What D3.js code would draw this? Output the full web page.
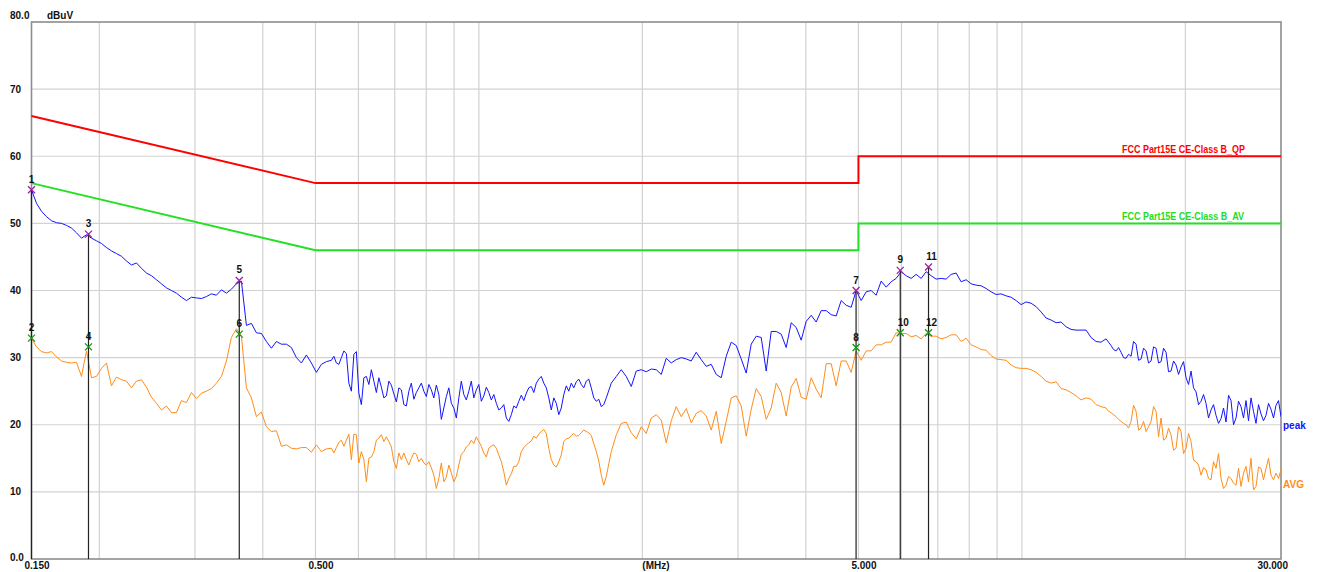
<!DOCTYPE html>
<html><head><meta charset="utf-8">
<script src="https://cdn.jsdelivr.net/npm/d3@7"></script>
<style>
body{margin:0;background:#fff}
svg{display:block}
text{font-family:"Liberation Sans",Arial,sans-serif;font-weight:bold}
</style>
</head><body>
<svg id="c" width="1317" height="572"></svg>
<script>
// receiver sweep grid (log spaced, 0.15 - 30 MHz)
const N = 251;
const freqs = d3.range(N).map(i => 0.15 * Math.pow(200, i / (N - 1)));
// extra sweep points halfway between grid points, in the noisy bands
const midFreq = i => 0.15 * Math.pow(200, (i + 0.5) / (N - 1));

const peak = [
55.0,53.0,51.8,51.0,50.4,50.1,50.0,49.7,49.3,48.6,
47.8,48.3,47.8,47.4,47.0,46.4,45.9,45.5,45.1,44.4,
43.8,44.1,43.3,42.6,42.2,41.6,41.0,40.4,40.0,39.6,
39.0,38.5,39.0,38.9,38.8,39.1,39.5,39.3,40.1,39.6,
40.2,41.0,41.4,34.8,35.1,33.7,33.6,32.4,31.4,32.4,
32.0,32.0,31.5,30.0,29.2,30.4,29.2,27.8,29.0,29.4,
29.6,29.2,30.0,30.6,25.0,30.9,23.0,27.2,28.2,24.8,
25.6,24.3,25.9,23.4,25.2,22.8,26.2,24.8,26.2,24.2,
25.2,25.9,20.8,24.2,23.2,21.0,26.5,23.7,26.5,25.2,
23.5,25.6,23.7,23.2,22.5,21.0,21.5,22.5,24.4,24.7,
25.7,26.2,27.2,25.5,22.2,23.2,22.5,25.8,26.2,26.4,
26.0,26.5,25.5,23.5,22.7,24.0,26.2,27.2,28.2,27.2,
25.7,28.0,28.2,27.9,28.3,28.2,27.5,29.9,29.2,29.7,
30.0,29.8,29.5,30.8,29.7,28.7,29.0,27.5,27.0,30.2,
32.3,31.8,29.8,27.7,32.0,33.2,33.0,28.0,33.9,33.9,
33.5,31.5,35.2,34.5,32.6,35.4,36.3,35.3,37.0,37.0,
36.4,36.2,38.5,37.8,37.5,40.0,38.5,39.8,40.0,39.3,
41.4,40.5,41.3,41.8,42.8,42.2,41.8,42.4,41.8,42.8,
42.2,41.7,41.8,41.7,42.4,42.6,41.3,41.6,41.0,40.8,
40.7,40.3,39.8,39.4,39.5,39.2,39.0,38.5,37.9,38.3,
38.1,37.6,36.8,35.9,35.6,35.2,35.3,34.6,34.2,34.1,
34.1,34.1,33.0,32.4,32.3,32.8,31.8,31.0,30.8,29.9,
30.2,32.0,29.8,31.0,29.5,31.4,29.4,30.8,28.0,28.9,
28.6,27.0,28.0,24.9,23.5,23.2,22.2,21.4,20.9,20.4,
23.6,21.0,22.7,23.6,24.0,20.2,21.6,21.4,22.3,22.9,
21.2];

const avg = [
32.9,31.6,30.9,30.7,30.9,30.1,29.5,29.3,29.2,29.3,
27.2,31.0,27.0,27.2,28.4,29.2,25.8,27.1,26.7,26.5,
25.5,26.5,26.7,25.6,24.1,23.2,22.2,22.8,21.8,21.8,
23.6,23.3,24.8,23.9,24.7,25.0,25.4,26.2,27.2,29.5,
33.0,34.3,33.2,25.5,24.0,21.2,21.9,19.7,19.0,19.1,
16.8,17.0,16.5,16.4,16.6,16.6,15.9,17.0,16.0,16.4,
16.5,16.6,17.7,17.7,14.8,18.5,16.0,11.5,15.2,17.7,
18.5,18.2,16.7,13.5,14.8,14.8,15.0,15.6,15.0,14.0,
13.6,10.5,14.3,12.2,12.8,12.3,15.6,16.7,17.7,18.2,
16.8,15.2,16.8,16.5,14.5,11.0,12.7,13.8,16.0,17.0,
17.6,18.0,19.0,18.7,14.8,13.7,15.5,17.9,18.4,18.3,
18.8,19.0,18.4,16.0,12.5,12.3,16.0,18.5,20.2,20.4,
18.8,17.9,19.7,18.7,21.0,21.5,20.7,17.3,20.6,22.7,
21.2,22.4,20.3,21.7,22.1,21.3,19.2,22.0,17.2,20.5,
24.0,24.3,22.8,18.3,22.3,25.4,24.2,20.8,22.5,26.2,
24.8,21.3,25.6,26.9,24.1,23.8,27.0,25.3,24.0,29.1,
29.1,25.8,29.5,29.5,27.8,31.0,29.6,31.0,31.0,31.9,
31.9,32.3,32.3,33.7,33.6,33.6,33.1,33.3,32.8,33.6,
33.2,33.2,32.8,33.0,33.4,33.4,32.4,32.9,31.9,31.6,
31.2,31.1,30.3,29.8,29.7,29.6,28.9,28.5,28.4,28.4,
28.2,27.8,27.2,26.5,26.2,26.4,25.4,25.2,24.8,24.3,
23.7,24.0,23.8,23.0,22.7,22.5,21.8,21.2,20.5,20.0,
20.5,22.0,19.5,19.0,20.5,22.0,21.0,18.0,18.5,16.5,
19.0,16.5,17.5,14.5,12.5,13.3,11.8,13.5,12.0,11.0,
12.0,11.0,10.8,13.8,15.0,10.8,13.5,13.5,12.5,12.8,
13.3];

// extra points (between grid i and i+1) in band A: i = 60..114, band B: i = 215..249
const bandAStart = 60, bandBStart = 215;
const peakMidA = [
30.2,29.0,31.0,26.2,30.5,24.7,27.0,26.0,26.5,27.0,
24.0,26.5,24.6,25.5,23.0,25.0,23.8,25.5,25.0,26.0,
24.0,24.5,22.5,25.5,22.5,24.0,24.5,25.0,24.0,26.0,
24.3,24.8,24.5,22.2,23.0,20.5,22.8,23.5,23.6,25.5,
24.8,26.8,26.2,24.0,24.0,21.5,24.5,25.0,25.5,26.8,
25.5,26.8,24.0,23.8,23.0];
const peakMidB = [
32.3,31.2,31.5,30.0,30.5,32.4,29.6,31.4,29.2,31.6,
29.2,31.4,27.9,29.5,27.5,29.4,26.0,25.5,23.0,24.5,
21.0,23.0,20.2,22.5,24.4,20.0,23.5,21.0,20.6,22.0,
23.0,20.6,23.2,21.0,23.6];
const avgMidA = [
15.8,17.4,16.8,18.6,18.6,14.3,14.8,15.0,16.0,18.0,
17.5,17.5,14.5,15.8,15.8,14.0,15.8,14.5,14.3,14.5,
12.5,12.0,11.5,14.0,11.5,14.0,16.0,17.0,17.2,17.5,
15.8,16.5,17.0,15.5,13.0,12.0,13.8,14.5,16.6,17.3,
18.3,18.6,19.3,16.5,14.0,14.5,17.5,18.0,18.7,18.4,
19.2,18.8,17.2,14.6,11.0];
const avgMidB = [
22.0,21.5,20.8,20.2,19.5,22.9,19.2,20.5,19.7,22.7,
18.2,17.7,19.5,16.2,19.7,15.7,18.7,14.7,14.0,13.6,
12.0,14.5,15.7,10.5,12.3,11.3,13.5,12.8,11.5,10.3,
13.7,11.8,15.0,11.8,12.0];

const qpLimitF = [0.15, 0.5, 5, 5, 30];
const qpLimitV = [66, 56, 56, 60, 60];
const avLimitF = [0.15, 0.5, 5, 5, 30];
const avLimitV = [56, 46, 46, 50, 50];

const markerNo   = [1, 2, 3, 4, 5, 6, 7, 8, 9, 10, 11, 12];
const markerFreq = [0.150, 0.150, 0.191, 0.191, 0.362, 0.362, 4.95, 4.95, 5.97, 5.97, 6.73, 6.73];
const markerVal  = [55.0, 32.9, 48.4, 31.6, 41.5, 33.5, 40.0, 31.5, 43.0, 33.7, 43.5, 33.7];
const markerType = ["peak","avg","peak","avg","peak","avg","peak","avg","peak","avg","peak","avg"];

const yTicks = [0, 10, 20, 30, 40, 50, 60, 70, 80];
const yTickLabels = ["0.0","10","20","30","40","50","60","70","80.0"];
const xGrid = [0.2,0.3,0.4,0.5,0.6,0.7,0.8,0.9,1,2,3,4,5,6,7,8,9,10,20];
const xTickValues = [0.15, 0.5, 5, 30];
const xTickLabels = ["0.150","0.500","5.000","30.000"];

function buildTrace(base, midA, midB) {
  const pts = freqs.map((f, i) => [f, base[i]]);
  midA.forEach((v, k) => pts.push([midFreq(bandAStart + k), v]));
  midB.forEach((v, k) => pts.push([midFreq(bandBStart + k), v]));
  return pts.sort((a, b) => a[0] - b[0]);
}

const L = 31.5, R = 1281, T = 22, B = 559;
const x = d3.scaleLog().domain([0.15, 30]).range([L, R]);
const y = d3.scaleLinear().domain([0, 80]).range([B, T]);

const svg = d3.select("#c");
svg.append("rect").attr("width",1317).attr("height",572).attr("fill","#fff");

svg.append("defs").append("clipPath").attr("id","clip")
  .append("rect").attr("x",L).attr("y",T).attr("width",R-L).attr("height",B-T);

// grid
const g = svg.append("g");
g.selectAll(".hg").data(yTicks.slice(1,-1)).enter().append("line")
  .attr("x1",L).attr("x2",R).attr("y1",d=>y(d)).attr("y2",d=>y(d))
  .attr("stroke","#d2d2d2").attr("stroke-width",1.2);
g.selectAll(".vg").data(xGrid).enter().append("line")
  .attr("y1",T).attr("y2",B).attr("x1",d=>x(d)).attr("x2",d=>x(d))
  .attr("stroke","#d2d2d2").attr("stroke-width",1.2);

// frame
svg.append("rect").attr("x",L).attr("y",T).attr("width",R-L).attr("height",B-T)
  .attr("fill","none").attr("stroke","#8c8c8c").attr("stroke-width",1.6);

// y labels
svg.selectAll(".yl").data(yTicks).enter().append("text")
  .attr("x",10)
  .attr("y",(d,i)=> d===80 ? 15 : (d===0 ? 557 : y(d)))
  .attr("dy","0.35em").attr("font-size",10).attr("fill","#111")
  .text((d,i)=>yTickLabels[i]);
svg.append("text").attr("x",47).attr("y",15).attr("dy","0.35em")
  .attr("font-size",10).attr("fill","#111").text("dBuV");

// x labels
svg.selectAll(".xl").data(xTickValues).enter().append("text")
  .attr("x",(d,i)=> i===xTickValues.length-1 ? 1288 : x(d)-7)
  .attr("text-anchor",(d,i)=> i===xTickValues.length-1 ? "end" : "start")
  .attr("y",565).attr("dy","0.35em").attr("font-size",10).attr("fill","#111")
  .text((d,i)=>xTickLabels[i]);
svg.append("text").attr("x",x(2)).attr("y",565).attr("dy","0.35em")
  .attr("font-size",10).attr("fill","#111").text("(MHz)");

// limit lines
const lim = d3.line().x(d=>x(d[0])).y(d=>y(d[1]));
svg.append("path").attr("d",lim(qpLimitF.map((f,i)=>[f,qpLimitV[i]])))
  .attr("fill","none").attr("stroke","#ff0000").attr("stroke-width",2);
svg.append("path").attr("d",lim(avLimitF.map((f,i)=>[f,avLimitV[i]])))
  .attr("fill","none").attr("stroke","#22e022").attr("stroke-width",2);
svg.append("text").attr("x",1122).attr("y",y(60)-7).attr("dy","0.35em")
  .attr("font-size",11).attr("fill","#ff0000")
  .attr("textLength",123).attr("lengthAdjust","spacingAndGlyphs")
  .text("FCC Part15E CE-Class B_QP");
svg.append("text").attr("x",1122).attr("y",y(50)-7).attr("dy","0.35em")
  .attr("font-size",11).attr("fill","#22dd22")
  .attr("textLength",122).attr("lengthAdjust","spacingAndGlyphs")
  .text("FCC Part15E CE-Class B_AV");

// traces
const tr = d3.line().x(d=>x(d[0])).y(d=>y(d[1]));
const pc = svg.append("g").attr("clip-path","url(#clip)");
pc.append("path").attr("d",tr(buildTrace(avg, avgMidA, avgMidB)))
  .attr("fill","none").attr("stroke","#ff8c1a").attr("stroke-width",1);
pc.append("path").attr("d",tr(buildTrace(peak, peakMidA, peakMidB)))
  .attr("fill","none").attr("stroke","#1414ff").attr("stroke-width",1);

svg.append("text").attr("x",1283).attr("y",425).attr("dy","0.35em")
  .attr("font-size",10).attr("fill","#1414ff").text("peak");
svg.append("text").attr("x",1283).attr("y",484).attr("dy","0.35em")
  .attr("font-size",10).attr("fill","#ff8c1a").text("AVG");

// markers
const mk = markerNo.map((n,i)=>({n, f:markerFreq[i], v:markerVal[i], t:markerType[i]}));
const mg = svg.append("g");
mk.filter(d=>d.t==="peak").forEach(d=>{
  mg.append("line").attr("x1",x(d.f)).attr("x2",x(d.f)).attr("y1",y(d.v)).attr("y2",B)
    .attr("stroke","#222").attr("stroke-width",1.2);
});
mk.forEach(d=>{
  const cx = x(d.f), cy = y(d.v), s = 3.5;
  const col = d.t==="peak" ? "#a020a0" : "#119911";
  mg.append("path").attr("d",`M${cx-s},${cy-s}L${cx+s},${cy+s}M${cx-s},${cy+s}L${cx+s},${cy-s}`)
    .attr("stroke",col).attr("stroke-width",1.3).attr("fill","none");
  mg.append("text").attr("x",cx + (d.n>=10?3:0)).attr("y",cy-7).attr("text-anchor","middle")
    .attr("font-size",10).attr("fill","#111").text(d.n);
});
</script>
</body></html>
